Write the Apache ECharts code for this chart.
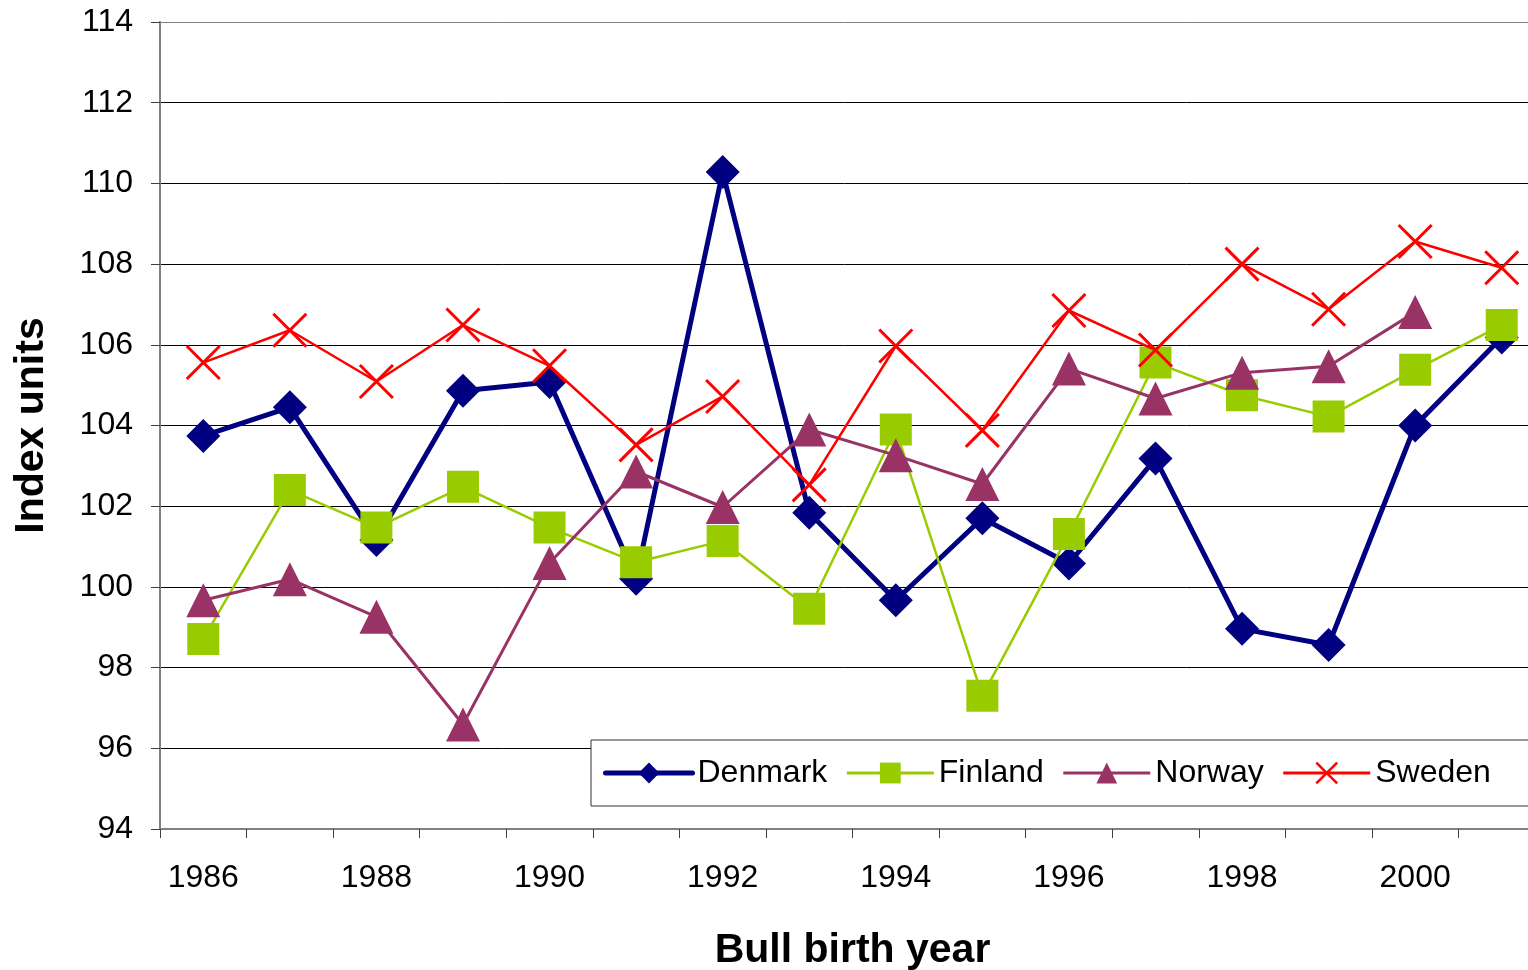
<!DOCTYPE html>
<html lang="en">
<head>
    <meta charset="UTF-8">
    <title>Index units by bull birth year</title>
    <script src="https://cdn.jsdelivr.net/npm/echarts@6/dist/echarts.min.js"></script>
    <style>
        html, body { margin: 0; padding: 0; background: #fff; }
    </style>
</head>
<body>
    <div id="chart" style="width: 1528px;height: 970px;"></div>
    <script>
        // categories and values
        const years = ['1986', '1987', '1988', '1989', '1990', '1991', '1992', '1993',
            '1994', '1995', '1996', '1997', '1998', '1999', '2000', '2001'];
        const denmark = [103.74, 104.45, 101.16, 104.86, 105.08, 100.2, 110.28, 101.84,
            99.67, 101.7, 100.58, 103.18, 98.96, 98.56, 104.0, 106.18];
        const finland = [98.71, 102.4, 101.47, 102.48, 101.47, 100.61, 101.14, 99.46,
            103.9, 97.3, 101.31, 105.56, 104.75, 104.22, 105.38, 106.49];
        const norway = [99.67, 100.19, 99.26, 96.59, 100.59, 102.86, 101.98, 103.9,
            103.26, 102.55, 105.41, 104.67, 105.31, 105.47, 106.81, null];
        const sweden = [105.56, 106.36, 105.09, 106.49, 105.48, 103.52, 104.72, 102.53,
            105.97, 103.88, 106.85, 105.87, 108.0, 106.88, 108.56, 107.91];

        const font = "'Liberation Sans', Arial, sans-serif";
        const crossPath = 'path://M0,0L10,10M10,0L0,10';

        let myChart = echarts.init(document.getElementById('chart'));

        let option = {
            animation: false,
            backgroundColor: '#fff',
            grid: {
                left: 160,
                top: 22,
                bottom: 141,
                right: -17,
                containLabel: false,
                outerBoundsMode: 'none'
            },
            legend: {
                left: 591,
                top: 740,
                width: 1000,
                orient: 'horizontal',
                padding: [17, 45, 17, 12],
                itemWidth: 87,
                itemHeight: 26,
                itemGap: 18,
                borderColor: '#333',
                borderWidth: 1,
                backgroundColor: '#fff',
                textStyle: { fontFamily: font, fontSize: 32, color: '#000' },
                data: [
                    { name: 'Denmark', itemStyle: { color: '#000080' }, lineStyle: { color: '#000080', width: 5, cap: 'round' } },
                    { name: 'Finland', itemStyle: { color: '#99CC00' }, lineStyle: { color: '#99CC00', width: 3 } },
                    { name: 'Norway', itemStyle: { color: '#993366' }, lineStyle: { color: '#993366', width: 3 } },
                    { name: 'Sweden', itemStyle: { color: 'rgba(0,0,0,0)', borderColor: '#FF0000', borderWidth: 2.5 }, lineStyle: { color: '#FF0000', width: 3 } }
                ]
            },
            xAxis: {
                type: 'category',
                data: years,
                boundaryGap: true,
                name: 'Bull birth year',
                nameLocation: 'middle',
                nameGap: 101,
                nameTextStyle: { fontFamily: font, fontSize: 41, fontWeight: 'bold', color: '#000' },
                axisLine: { lineStyle: { color: '#808080', width: 2 } },
                axisTick: { show: true, interval: 0, length: 9, lineStyle: { color: '#404040', width: 1 } },
                axisLabel: { interval: 1, margin: 33, fontFamily: font, fontSize: 32, color: '#000' },
                splitLine: { show: false }
            },
            yAxis: {
                type: 'value',
                min: 94,
                max: 114,
                interval: 2,
                name: 'Index units',
                nameLocation: 'middle',
                nameGap: 108,
                nameTextStyle: { fontFamily: font, fontSize: 41, fontWeight: 'bold', color: '#000' },
                axisLine: { show: true, lineStyle: { color: '#808080', width: 2 } },
                axisTick: { show: true, length: 9, lineStyle: { color: '#404040', width: 1 } },
                axisLabel: { margin: 27, fontFamily: font, fontSize: 32, color: '#000' },
                splitLine: {
                    show: true,
                    lineStyle: {
                        color: ['#000', '#000', '#000', '#000', '#000', '#000', '#000', '#000', '#000', '#000', '#808080'],
                        width: 1
                    }
                }
            },
            series: [
                {
                    name: 'Denmark',
                    type: 'line',
                    data: denmark,
                    z: 2,
                    symbol: 'diamond',
                    symbolSize: 34,
                    showAllSymbol: true,
                    itemStyle: { color: '#000080' },
                    lineStyle: { color: '#000080', width: 5 }
                },
                {
                    name: 'Finland',
                    type: 'line',
                    data: finland,
                    z: 3,
                    symbol: 'rect',
                    symbolSize: 32,
                    showAllSymbol: true,
                    itemStyle: { color: '#99CC00' },
                    lineStyle: { color: '#99CC00', width: 2.5 }
                },
                {
                    name: 'Norway',
                    type: 'line',
                    data: norway,
                    z: 4,
                    symbol: 'triangle',
                    symbolSize: 34,
                    showAllSymbol: true,
                    itemStyle: { color: '#993366' },
                    lineStyle: { color: '#993366', width: 3 }
                },
                {
                    name: 'Sweden',
                    type: 'line',
                    data: sweden,
                    z: 5,
                    symbol: crossPath,
                    symbolSize: 33,
                    showAllSymbol: true,
                    itemStyle: { color: 'rgba(0,0,0,0)', borderColor: '#FF0000', borderWidth: 3 },
                    lineStyle: { color: '#FF0000', width: 2.5 }
                }
            ]
        };

        myChart.setOption(option);
    </script>
</body>
</html>
